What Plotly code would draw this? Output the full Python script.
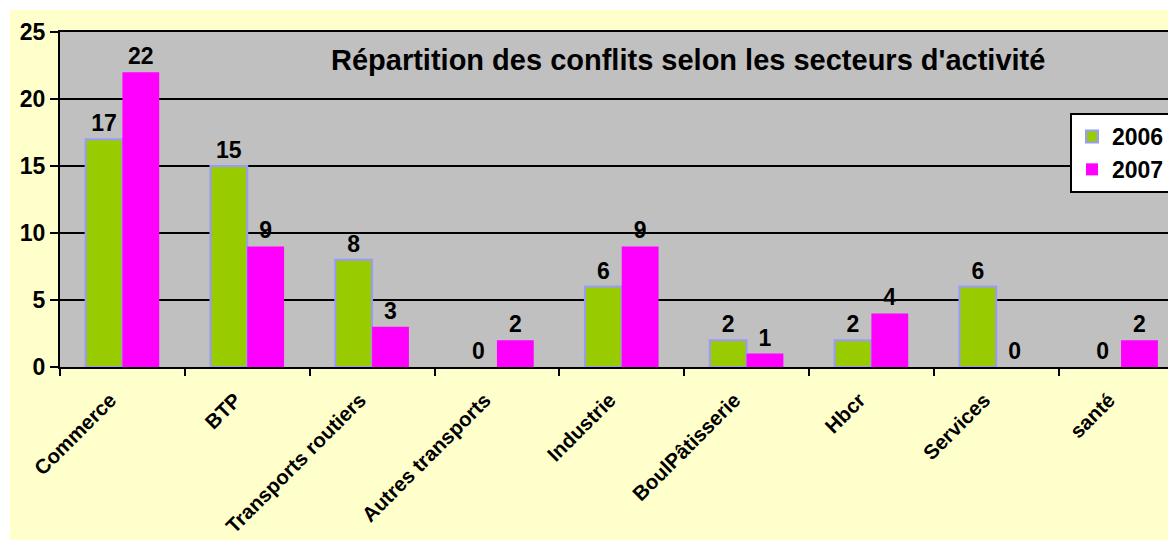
import plotly.graph_objects as go

# data
secteurs = ["Commerce", "BTP", "Transports routiers", "Autres transports", "Industrie",
            "BoulPâtisserie", "Hbcr", "Services", "santé"]
valeurs_2006 = [17, 15, 8, 0, 6, 2, 2, 6, 0]
valeurs_2007 = [22, 9, 3, 2, 9, 1, 4, 0, 2]
y_ticks = [0, 5, 10, 15, 20, 25]

FONT = "Liberation Sans, Arial, sans-serif"
# the page body adds an 8px margin, so the figure starts at (8, 8)
W, H = 1168, 532
L, T, B = 52, 24, 173
PW = W - L
PH = H - T - B

# no outline on empty bars
contour_2006 = [2 if v > 0 else 0 for v in valeurs_2006]

fig = go.Figure()
fig.add_trace(go.Bar(
    x=secteurs, y=valeurs_2006, name="2006",
    marker=dict(color="#99CC00", line=dict(color="#9999FF", width=contour_2006)),
    text=valeurs_2006, textposition="outside", cliponaxis=False,
    textfont=dict(family=FONT, size=23, color="black", weight="bold"),
))
fig.add_trace(go.Bar(
    x=secteurs, y=valeurs_2007, name="2007",
    marker=dict(color="#FF00FF", line=dict(width=0)),
    text=valeurs_2007, textposition="outside", cliponaxis=False,
    textfont=dict(family=FONT, size=23, color="black", weight="bold"),
))

fig.update_layout(
    width=W, height=H,
    margin=dict(l=L, r=0, t=T, b=B, autoexpand=False),
    paper_bgcolor="#FFFFCC",
    plot_bgcolor="#C0C0C0",
    barmode="group", bargap=0.41, bargroupgap=0,
    font=dict(family=FONT, color="black"),
    showlegend=True,
    legend=dict(
        x=(1062 - L) / PW, y=(H - B - 105) / PH, xanchor="left", yanchor="top",
        bgcolor="white", bordercolor="black", borderwidth=2,
        font=dict(family=FONT, size=23, color="black", weight="bold"),
        traceorder="normal", itemwidth=30, tracegroupgap=4,
    ),
)

fig.update_xaxes(
    range=[-0.5, 8.44], tickangle=-45, tickson="boundaries",
    ticks="outside", ticklen=7, tickwidth=2, tickcolor="black",
    showline=True, linecolor="black", linewidth=2, mirror=True,
    showgrid=False, ticklabelstandoff=11, ticklabelshift=-12, automargin=False,
    tickfont=dict(family=FONT, size=20.5, color="black", weight="bold"),
)
fig.update_yaxes(
    range=[0, 25], tickvals=y_ticks, automargin=False,
    ticks="outside", ticklen=8, tickwidth=2, tickcolor="black",
    showline=True, linecolor="black", linewidth=2, mirror=True,
    showgrid=True, gridcolor="black", gridwidth=2,
    zeroline=False,
    tickfont=dict(family=FONT, size=23, color="black", weight="bold"),
)

fig.add_annotation(
    text="Répartition des conflits selon les secteurs d'activité",
    xref="paper", yref="paper", x=(680 - L) / PW, y=(H - B - 52) / PH,
    showarrow=False, xanchor="center", yanchor="middle",
    font=dict(family=FONT, size=29, color="black", weight="bold"),
)

# thin white border around the yellow chart area (top and left)
fig.add_shape(type="rect", xref="paper", yref="paper",
              x0=-L / PW, x1=1.01, y0=(H - B - 2) / PH, y1=(H - B) / PH + 0.01,
              fillcolor="white", line=dict(width=0), layer="below")
fig.add_shape(type="rect", xref="paper", yref="paper",
              x0=-L / PW - 0.01, x1=(2 - L) / PW, y0=-B / PH - 0.01, y1=(H - B) / PH + 0.01,
              fillcolor="white", line=dict(width=0), layer="below")

fig.write_html("out.html")
